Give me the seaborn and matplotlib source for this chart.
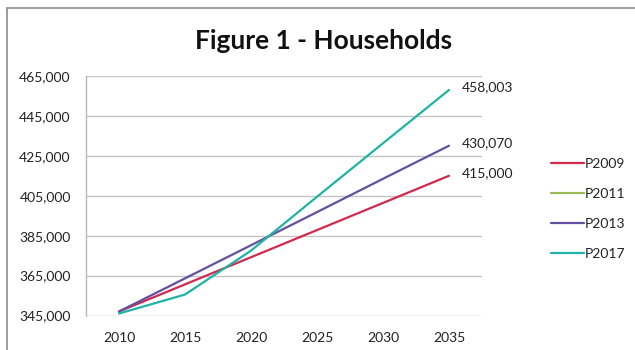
import numpy as np
import pandas as pd
import seaborn as sns
import matplotlib
matplotlib.use("Agg")
import matplotlib.pyplot as plt
from matplotlib.lines import Line2D
from matplotlib.patches import Rectangle
from matplotlib.ticker import FuncFormatter

# Household projections by projection vintage
years = [2010, 2015, 2020, 2025, 2030, 2035]
p2009 = [347000, 360600, 374200, 387800, 401400, 415000]
p2011 = [np.nan, np.nan, np.nan, np.nan, np.nan, np.nan]
p2013 = [347000, 363600, 380200, 396800, 413500, 430070]
p2017 = [346000, 355500, 377500, 404500, 431300, 458003]
series_names = ["P2009", "P2011", "P2013", "P2017"]
y_ticks = [345000, 365000, 385000, 405000, 425000, 445000, 465000]
end_labels = {"P2009": 415000, "P2013": 430070, "P2017": 458003}

colors = {"P2009": "#D02A4E", "P2011": "#9BBB59",
          "P2013": "#6450A0", "P2017": "#1FB3A6"}

df = pd.DataFrame({"year": years, "P2009": p2009, "P2011": p2011,
                   "P2013": p2013, "P2017": p2017})
long = df.melt(id_vars="year", var_name="series", value_name="households").dropna()

sns.set_theme(style="white")
plt.rcParams["font.family"] = ["Lato", "DejaVu Sans"]

fig = plt.figure(figsize=(6.35, 3.5), dpi=100)
ax = fig.add_axes([86 / 635, 1 - 315.5 / 350, (482 - 86) / 635, (315.5 - 76) / 350])

sns.lineplot(data=long, x="year", y="households", hue="series",
             hue_order=series_names, palette=colors, linewidth=1.6,
             legend=False, ax=ax)

ax.set_xlim(2007.5, 2037.5)
ax.set_ylim(345000, 465000)
ax.set_xticks(years)
ax.set_yticks(y_ticks)
ax.yaxis.set_major_formatter(FuncFormatter(lambda v, _: f"{int(v):,}"))
ax.set_xlabel("")
ax.set_ylabel("")
ax.tick_params(axis="both", length=0, labelsize=10, colors="#222222")
ax.tick_params(axis="y", pad=11)
ax.tick_params(axis="x", pad=12)
ax.grid(axis="y", color="#C4C4C4", linewidth=1.0)
ax.set_axisbelow(True)
for side in ["top", "right", "bottom"]:
    ax.spines[side].set_visible(False)
ax.spines["left"].set_color("#B8B8B8")
ax.spines["left"].set_linewidth(1.0)

# Value labels at the last projection year
for name, val in end_labels.items():
    ax.annotate(f"{val:,}", xy=(years[-1], val), xytext=(9, 2),
                textcoords="offset points", ha="left", va="center",
                fontsize=10, color="#222222")

handles = [Line2D([0], [0], color=colors[n], linewidth=1.6) for n in series_names]
fig.legend(handles, series_names, loc="upper left",
           bbox_to_anchor=(538 / 635, 1 - 145 / 350), frameon=False,
           fontsize=10, handlelength=2.4, handletextpad=0.1,
           labelspacing=1.3, labelcolor="#222222")

fig.text(324 / 635, 1 - 41 / 350, "Figure 1 - Households", ha="center",
         va="center", fontsize=19, fontweight="bold", color="#111111")

# Outer chart frame
fig.patches.append(Rectangle((7 / 635, -0.2), 1.2, 1.2 - 8 / 350,
                             transform=fig.transFigure, fill=False,
                             edgecolor="#8C8C8C", linewidth=1.2))

fig.savefig("out.png", dpi=100)
